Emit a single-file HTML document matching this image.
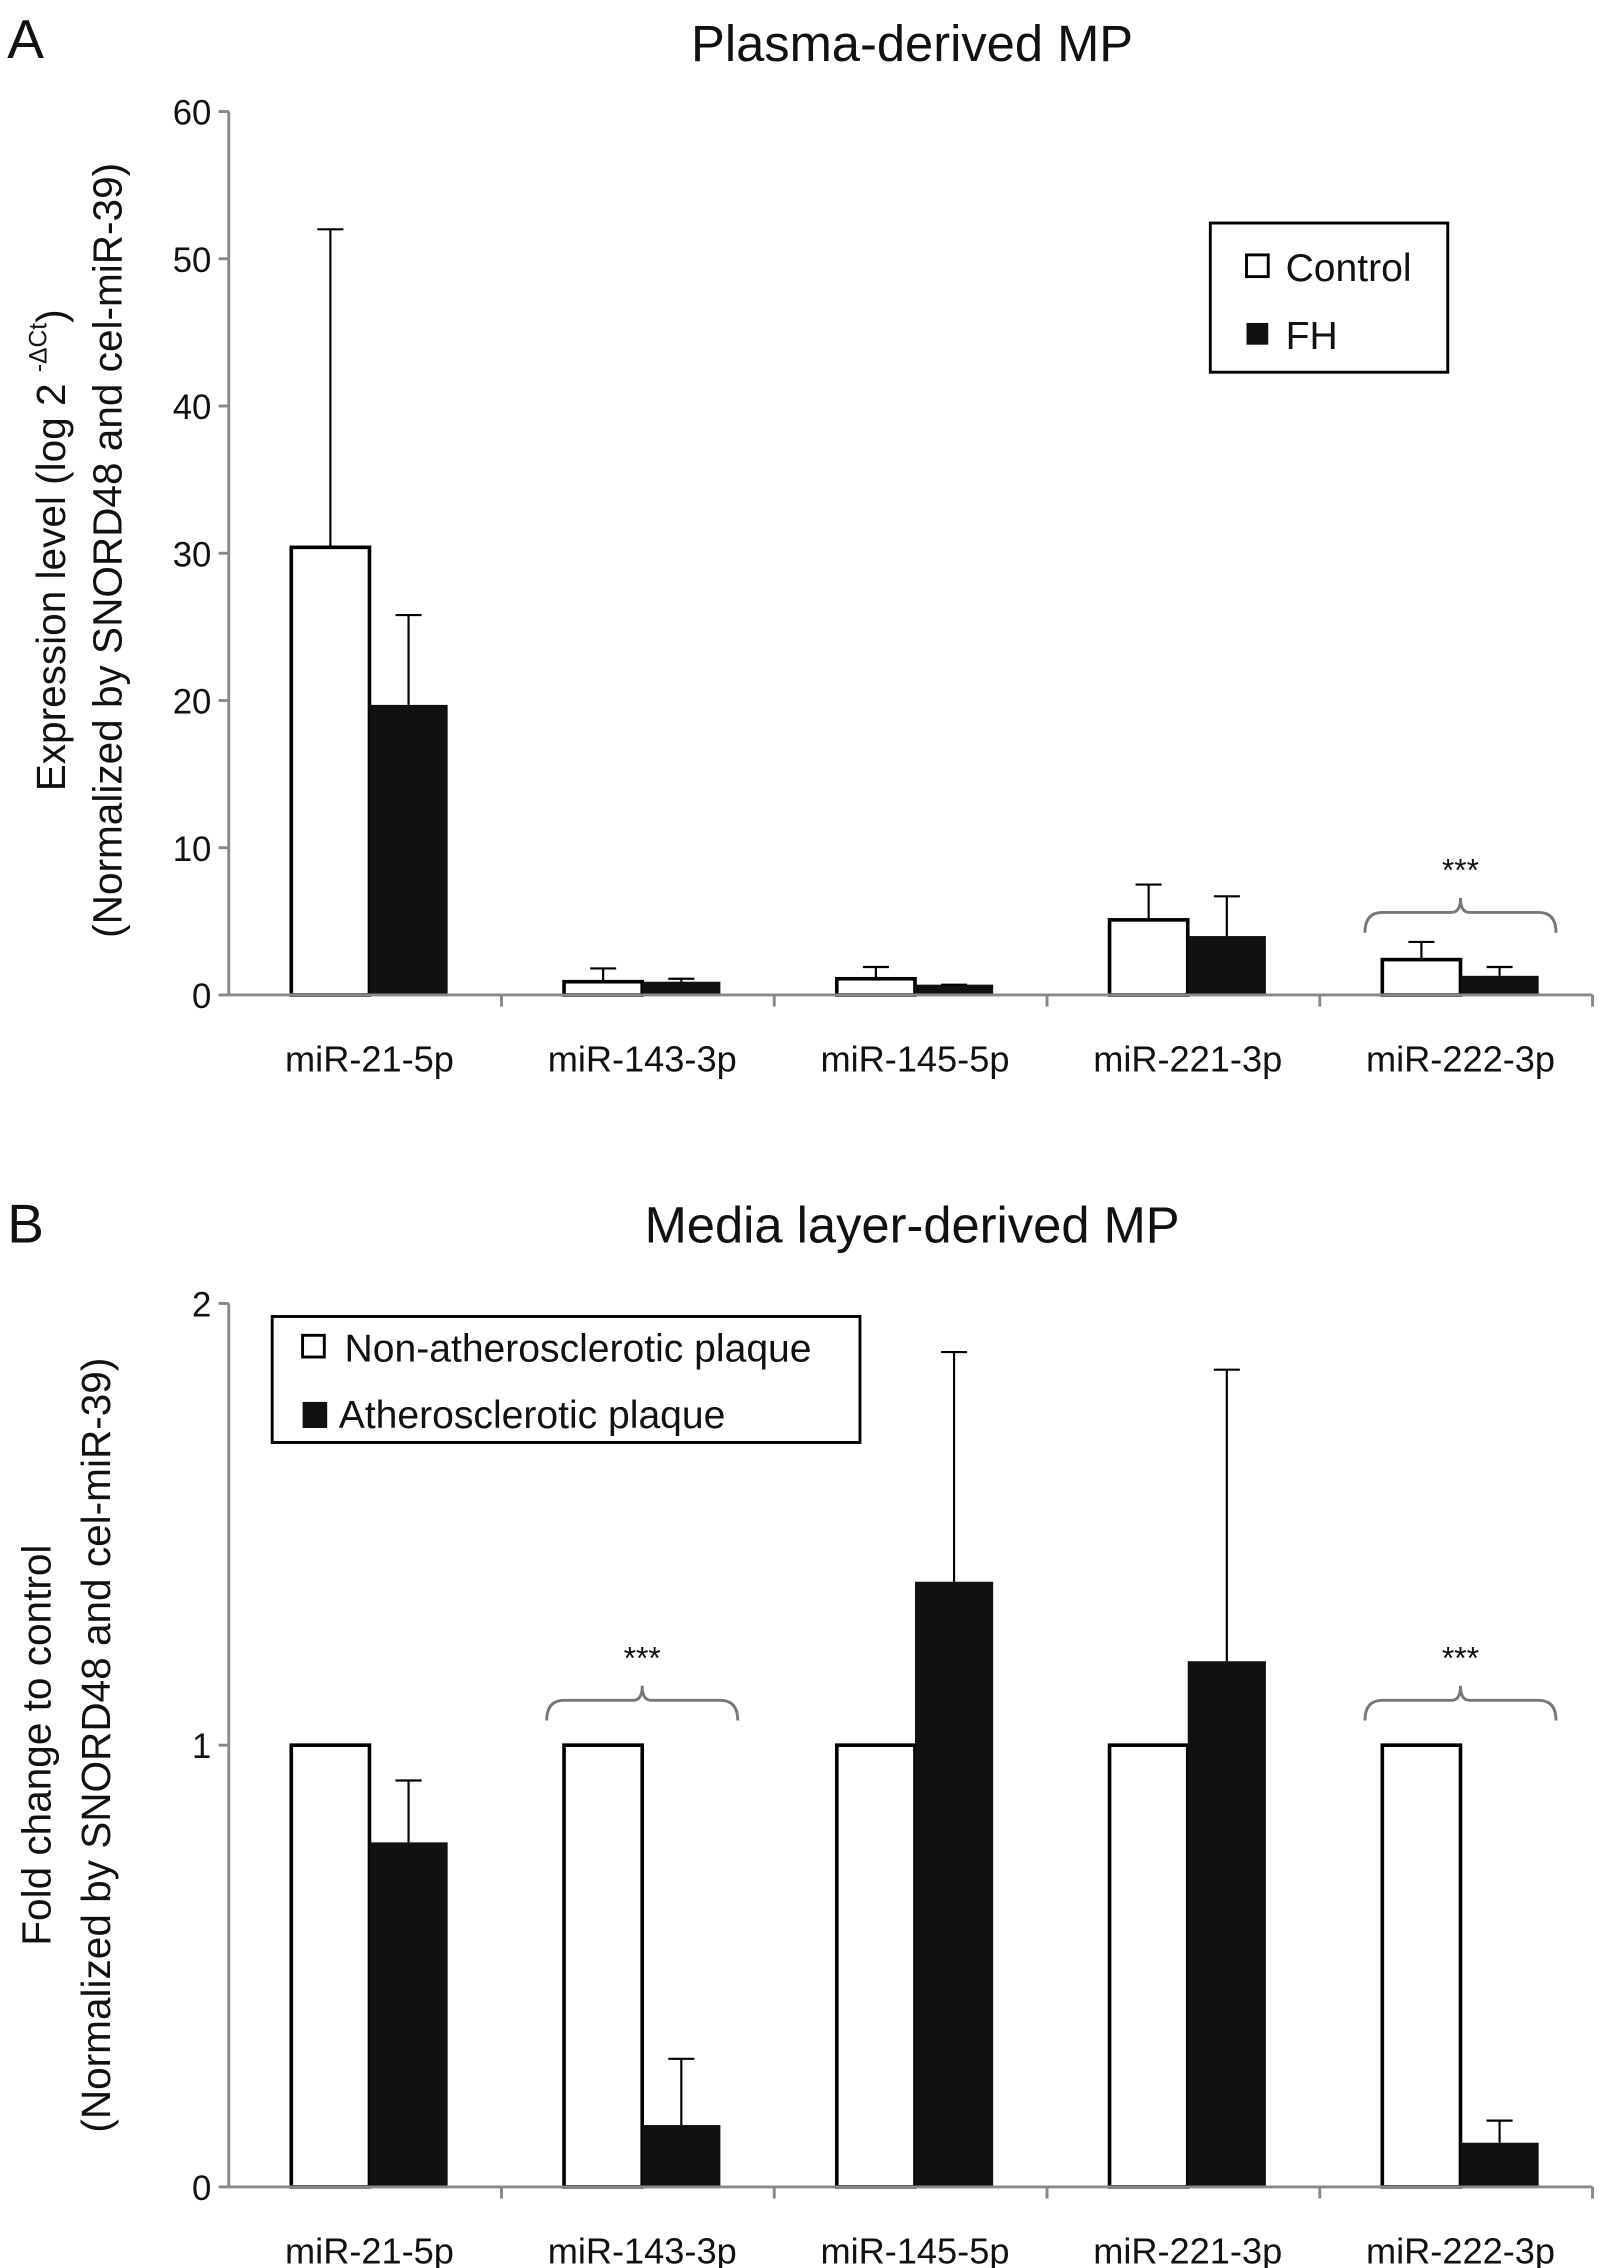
<!DOCTYPE html>
<html><head><meta charset="utf-8"><style>html,body{margin:0;padding:0;background:#fff}svg{display:block}text{font-family:"Liberation Sans",sans-serif;fill:#111}</style></head>
<body>
<svg id="chart" width="1607" height="2268" viewBox="0 0 1110 1566" preserveAspectRatio="none" xmlns="http://www.w3.org/2000/svg">
<text x="5" y="40" font-size="38">A</text>
<text x="630" y="42" font-size="35" text-anchor="middle">Plasma-derived MP</text>
<text transform="translate(45,380) rotate(-90)" font-size="28" text-anchor="middle">Expression level (log 2 <tspan font-size="17" dy="-13">-ΔCt</tspan><tspan dy="13">)</tspan></text>
<text transform="translate(84,380) rotate(-90)" font-size="28" text-anchor="middle">(Normalized by SNORD48 and cel-miR-39)</text>
<g>
<rect x="836" y="154" width="164" height="103" fill="#fff" stroke="#000" stroke-width="2"/>
<rect x="861" y="176" width="15" height="15" fill="#fff" stroke="#000" stroke-width="2"/>
<text x="888" y="194" font-size="27">Control</text>
<rect x="861" y="223" width="15" height="15" fill="#111"/>
<text x="888" y="241" font-size="27">FH</text>
</g>
<text x="630" y="858" font-size="35" text-anchor="middle">Media layer-derived MP</text>
<text x="5" y="858" font-size="38">B</text>
<text transform="translate(35,1205) rotate(-90)" font-size="28" text-anchor="middle">Fold change to control</text>
<text transform="translate(76,1205) rotate(-90)" font-size="28" text-anchor="middle">(Normalized by SNORD48 and cel-miR-39)</text>
<g>
<rect x="188" y="909" width="406" height="87" fill="#fff" stroke="#000" stroke-width="2"/>
<rect x="209" y="922" width="15" height="15" fill="#fff" stroke="#000" stroke-width="2"/>
<text x="238" y="940" font-size="27">Non-atherosclerotic plaque</text>
<rect x="209" y="968" width="17" height="18" fill="#111"/>
<text x="234" y="986" font-size="27">Atherosclerotic plaque</text>
</g>
<g id="plots"></g>
</svg>
<script>
const categories = ["miR-21-5p","miR-143-3p","miR-145-5p","miR-221-3p","miR-222-3p"];
const aControl = [30.4, 0.9, 1.1, 5.1, 2.4];
const aControlErr = [52, 1.8, 1.9, 7.5, 3.6];
const aFH = [19.7, 0.9, 0.7, 4.0, 1.3];
const aFHErr = [25.8, 1.1, 0.7, 6.7, 1.9];
const aTicks = [0,10,20,30,40,50,60];
const aSig = [4];
const bControl = [1,1,1,1,1];
const bControlErr = [null,null,null,null,null];
const bAthero = [0.78, 0.14, 1.37, 1.19, 0.10];
const bAtheroErr = [0.92, 0.29, 1.89, 1.85, 0.15];
const bTicks = [0,1,2];
const bSig = [1,4];

const NS="http://www.w3.org/2000/svg";
const root=document.getElementById('plots');
function mk(tag,attrs,parent){const e=document.createElementNS(NS,tag);for(const k in attrs)e.setAttribute(k,attrs[k]);(parent||root).appendChild(e);return e;}

function panel(p){
  const x0=158,x1=1100,cw=(x1-x0)/categories.length,bw=54;
  const y=v=>p.yb-(v-p.min)/(p.max-p.min)*(p.yb-p.yt);
  const xc=i=>x0+cw*(i+0.5)+3;
  const g=mk('g',{});
  
  
  const ya=mk('line',{x1:x0,y1:p.yt,x2:x0,y2:p.yb,stroke:'#888','stroke-width':2},g);
  
  
  p.ticks.forEach(t=>{
    mk('line',{x1:x0-7,y1:y(t),x2:x0,y2:y(t),stroke:'#888','stroke-width':2},g);
    const tl=mk('text',{x:x0-12,y:y(t)+9,'font-size':24,'text-anchor':'end'},g);
    tl.textContent=t;
    
    
  });
  categories.forEach((c,i)=>{
    const xa=xc(i);
    const cx=x0+cw*i;
    mk('line',{x1:cx+cw,y1:p.yb,x2:cx+cw,y2:p.yb+8,stroke:'#888','stroke-width':2},g);
    const r1=mk('rect',{x:xa-bw,y:y(p.c[i]),width:bw,height:p.yb-y(p.c[i]),fill:'#fff',stroke:'#000','stroke-width':2.5},g);
    
    
    if(p.ce[i]!=null){
      mk('line',{x1:xa-bw/2,y1:y(p.c[i]),x2:xa-bw/2,y2:y(p.ce[i]),stroke:'#000','stroke-width':1.5},g);
      mk('line',{x1:xa-bw/2-9,y1:y(p.ce[i]),x2:xa-bw/2+9,y2:y(p.ce[i]),stroke:'#000','stroke-width':1.5},g);
    }
    const r2=mk('rect',{x:xa,y:y(p.t[i]),width:bw,height:p.yb-y(p.t[i]),fill:'#111'},g);
    
    
    if(p.te[i]!=null){
      mk('line',{x1:xa+bw/2,y1:y(p.t[i]),x2:xa+bw/2,y2:y(p.te[i]),stroke:'#000','stroke-width':1.5},g);
      mk('line',{x1:xa+bw/2-9,y1:y(p.te[i]),x2:xa+bw/2+9,y2:y(p.te[i]),stroke:'#000','stroke-width':1.5},g);
    }
    const cl=mk('text',{x:xa,y:p.yb+53,'font-size':25,'text-anchor':'middle'},g);
    cl.textContent=c;
    
    
  });
  const xa2=mk('line',{x1:x0,y1:p.yb,x2:x1,y2:p.yb,stroke:'#888','stroke-width':2},g);
  
  
  p.sig.forEach(i=>{
    const xa=xc(i),l=xa-66,r=xa+66,by=p.brY;
    const br=mk('path',{d:`M${l} ${by+14} Q${l} ${by} ${l+12} ${by} L${xa-6} ${by} Q${xa} ${by} ${xa} ${by-10} Q${xa} ${by} ${xa+6} ${by} L${r-12} ${by} Q${r} ${by} ${r} ${by+14}`,fill:'none',stroke:'#777','stroke-width':2},g);
    
    
    const st=mk('text',{x:xa,y:by-22,'font-size':22,'text-anchor':'middle'},g);
    st.textContent='***';
    
    
  });
}
panel({name:'panel-a',yt:77,yb:687,min:0,max:60,ticks:aTicks,c:aControl,ce:aControlErr,t:aFH,te:aFHErr,sig:aSig,brY:630});
panel({name:'panel-b',yt:900,yb:1510,min:0,max:2,ticks:bTicks,c:bControl,ce:bControlErr,t:bAthero,te:bAtheroErr,sig:bSig,brY:1174});
</script>
</body></html>
